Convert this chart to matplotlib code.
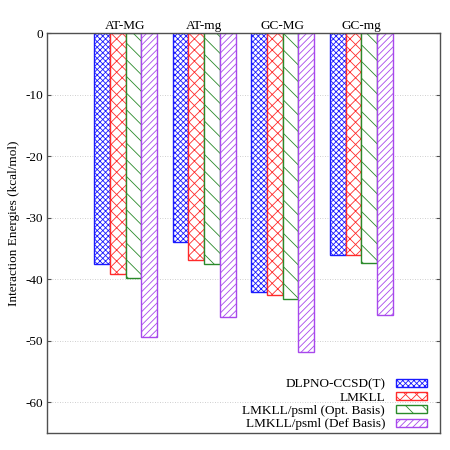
import matplotlib

matplotlib.use("Agg")
import matplotlib.pyplot as plt
import numpy as np

plt.rcParams["font.family"] = ["Liberation Serif", "DejaVu Serif"]
plt.rcParams["font.size"] = 9.5
plt.rcParams["hatch.linewidth"] = 0.6
plt.rcParams["axes.unicode_minus"] = False

systems = ["AT-MG", "AT-mg", "GC-MG", "GC-mg"]
methods = [
    "DLPNO-CCSD(T)",
    "LMKLL",
    "LMKLL/psml (Opt. Basis)",
    "LMKLL/psml (Def Basis)",
]
dlpno = [-37.5, -33.9, -42.1, -36.0]
lmkll = [-39.2, -36.8, -42.6, -36.1]
psml_opt = [-39.8, -37.6, -43.2, -37.4]
psml_def = [-49.4, -46.2, -51.9, -45.9]

colors = ["#1a1aff", "#ff2a2a", "#2a8a2a", "#a848ec"]
hatches = ["xxxxxx", "xxx", "\\\\", "/////"]


def main() -> None:
    fig = plt.figure(figsize=(4.5, 4.5), dpi=100)
    ax = fig.add_axes([0.1044, 0.038, 0.8733, 0.888])

    x = np.arange(1, len(systems) + 1)
    width = 0.2
    series = [dlpno, lmkll, psml_opt, psml_def]
    for i, vals in enumerate(series):
        ax.bar(
            x + (i - 1.5) * width,
            vals,
            width,
            facecolor="white",
            edgecolor=colors[i],
            hatch=hatches[i],
            linewidth=1.0,
            label=methods[i],
            zorder=2,
        )

    ax.set_xlim(0, 5)
    ax.set_ylim(-65, 0)
    ax.set_yticks(np.arange(-60, 1, 10))
    ax.yaxis.grid(True, linestyle=(0, (1, 2)), color="#c0c0c0", linewidth=0.6)
    ax.set_axisbelow(True)
    ax.tick_params(axis="y", direction="in", right=True, length=3, color="#505050", pad=3)
    ax.xaxis.tick_top()
    ax.set_xticks(x)
    ax.set_xticklabels(systems)
    ax.tick_params(axis="x", length=0, pad=1)
    for s in ax.spines.values():
        s.set_color("#505050")
        s.set_linewidth(1.0)

    ax.set_ylabel("Interaction Energies (kcal/mol)")
    ax.yaxis.set_label_coords(-0.069, 0.525)

    ax.legend(
        loc="lower right",
        frameon=False,
        markerfirst=False,
        handlelength=2.4,
        handleheight=0.55,
        labelspacing=0.1,
        handletextpad=0.8,
        borderaxespad=0.4,
        bbox_to_anchor=(0.995, -0.02),
    )
    for t in ax.get_legend().get_texts():
        t.set_ha("right")
    ax.get_legend()._legend_box.align = "right"

    fig.savefig("out.png", dpi=100)


if __name__ == "__main__":
    main()
